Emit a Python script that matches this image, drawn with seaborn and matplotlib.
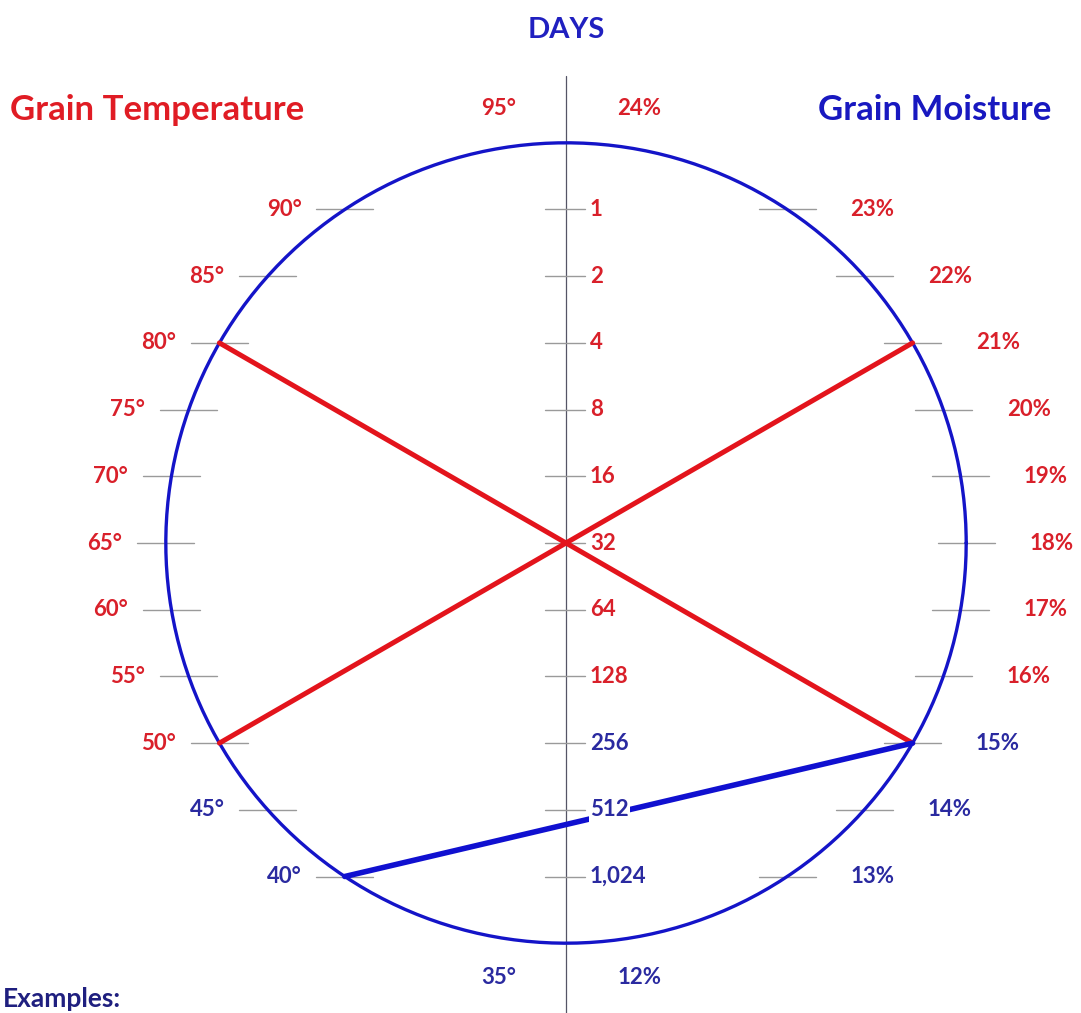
import numpy as np
import pandas as pd
import matplotlib
matplotlib.use("Agg")
import matplotlib.pyplot as plt
import seaborn as sns

# scale values along each axis of the nomogram
temp_values = [95, 90, 85, 80, 75, 70, 65, 60, 55, 50, 45, 40, 35]
moist_values = [24, 23, 22, 21, 20, 19, 18, 17, 16, 15, 14, 13, 12]
days_values = [1, 2, 4, 8, 16, 32, 64, 128, 256, 512, 1024]
days_text = ["1", "2", "4", "8", "16", "32", "64", "128", "256", "512", "1,024"]

# worked examples drawn on the chart
ex_temp = [80, 50, 40]
ex_moist = [15, 21, 15]
ex_name = ["ex1", "ex2", "ex3"]

RED = "#d9202a"
BLUE = "#1414c8"
NAVY = "#2a2aa0"
GRAY = "#9a9a9a"
U = 66.7  # pixels per row
R = 6.0   # circle radius in rows


def temp_row(t):
    return (65 - t) / 5.0


def moist_row(m):
    return 18.0 - m


def days_row(d):
    return np.log2(d) - 5


def circ_x(row, side):
    return side * np.sqrt(max(R ** 2 - row ** 2, 0))


sns.set_theme(style="white")
plt.rcParams["font.family"] = ["Lato", "DejaVu Sans"]

fig = plt.figure(figsize=(10.81, 10.13), dpi=100)
ax = fig.add_axes([0, 0, 1, 1])
ax.set_xlim(-566 / U, 515 / U)
ax.set_ylim(470 / U, -543 / U)
ax.axis("off")

# circle
theta = np.linspace(0, 2 * np.pi, 400)
circle = pd.DataFrame({"x": R * np.cos(theta), "y": R * np.sin(theta)})
sns.lineplot(data=circle, x="x", y="y", sort=False, estimator=None,
             color=BLUE, lw=2.4, ax=ax, zorder=3)

# vertical days axis
ax.plot([0, 0], [-7.0, 8], color="#555566", lw=0.9, zorder=1)

# day ticks + labels
for d, txt in zip(days_values, days_text):
    r = days_row(d)
    ax.plot([-0.32, 0.28], [r, r], color=GRAY, lw=1.0, zorder=2)
    col = RED if d <= 128 else NAVY
    bb = dict(facecolor="white", edgecolor="none", pad=1) if d == 512 else None
    ax.text(0.36, r, txt, color=col, fontsize=16, fontweight="bold",
            ha="left", va="center", bbox=bb, zorder=6)

# temperature scale (left side)
for t in temp_values:
    r = temp_row(t)
    col = RED if t >= 50 else NAVY
    if abs(r) >= R:
        ax.text(-0.75, r + 0.52 * np.sign(r), f"{t}°", color=col, fontsize=16,
                fontweight="bold", ha="right", va="center")
        continue
    cx = circ_x(r, -1)
    ax.plot([cx - 0.43, cx + 0.43], [r, r], color=GRAY, lw=1.0, zorder=2)
    ax.text(cx - 0.65, r, f"{t}°", color=col, fontsize=16, fontweight="bold",
            ha="right", va="center")

# moisture scale (right side)
for m in moist_values:
    r = moist_row(m)
    col = RED if m >= 16 else NAVY
    if abs(r) >= R:
        ax.text(0.77, r + 0.52 * np.sign(r), f"{m}%", color=col, fontsize=16,
                fontweight="bold", ha="left", va="center")
        continue
    cx = circ_x(r, 1)
    ax.plot([cx - 0.43, cx + 0.43], [r, r], color=GRAY, lw=1.0, zorder=2)
    ax.text(cx + 0.95, r, f"{m}%", color=col, fontsize=16, fontweight="bold",
            ha="left", va="center")

# example lines: temperature point -> moisture point
rows = []
for name, t, m in zip(ex_name, ex_temp, ex_moist):
    rt, rm = temp_row(t), moist_row(m)
    rows.append({"ex": name, "x": circ_x(rt, -1), "y": rt})
    rows.append({"ex": name, "x": circ_x(rm, 1), "y": rm})
ex_df = pd.DataFrame(rows)
sns.lineplot(data=ex_df[ex_df.ex != "ex3"], x="x", y="y", units="ex", estimator=None,
             sort=False, color="#e3141c", lw=3.6, ax=ax, zorder=4)
sns.lineplot(data=ex_df[ex_df.ex == "ex3"], x="x", y="y", sort=False, estimator=None,
             color="#1010d0", lw=4.0, ax=ax, zorder=4)

# titles
ax.text(0, -7.69, "DAYS", color="#2020c0", fontsize=21, fontweight="bold",
        ha="center", va="center")
ax.text(-8.34, -6.49, "Grain Temperature", color="#e01c24", fontsize=25,
        fontweight="bold", ha="left", va="center")
ax.text(7.27, -6.49, "Grain Moisture", color="#1818c0", fontsize=25,
        fontweight="bold", ha="right", va="center")
ax.text(-8.45, 7.02, "Examples:", color="#1f1f7f", fontsize=19,
        fontweight="bold", ha="left", va="bottom")

fig.savefig("out.png", dpi=100)
